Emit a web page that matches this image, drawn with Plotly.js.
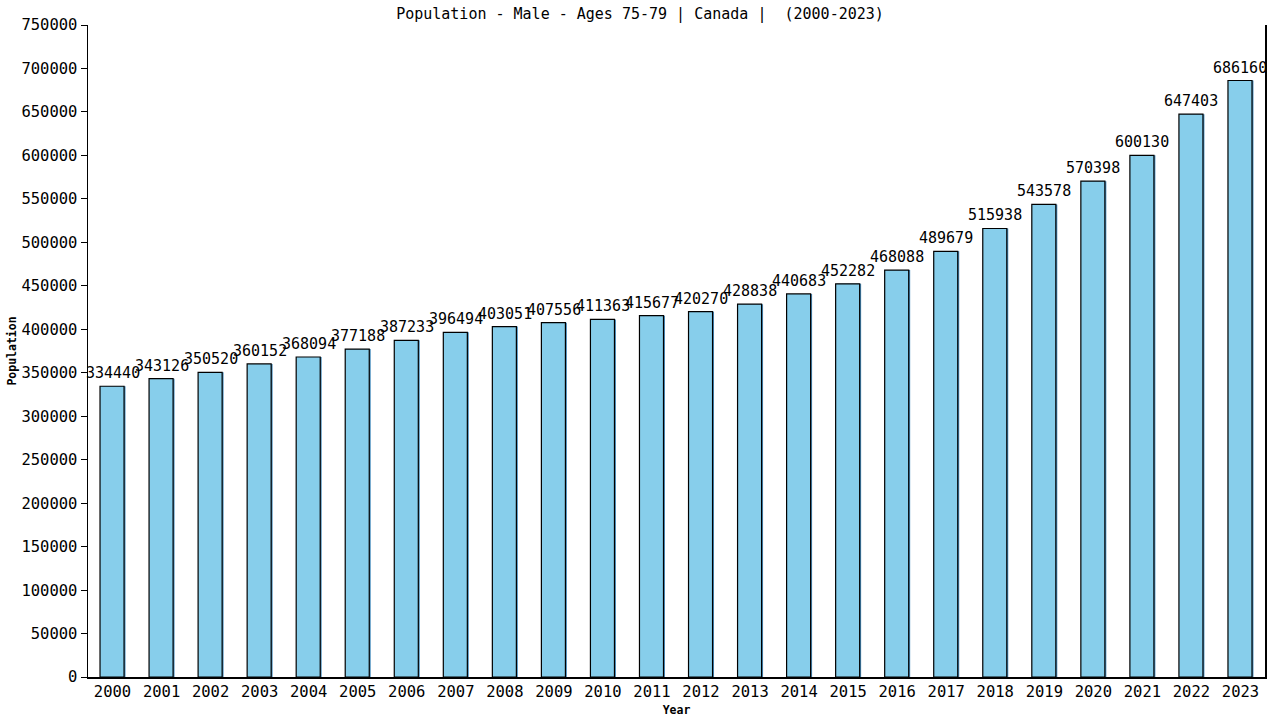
<!DOCTYPE html>
<html>
<head>
<meta charset="utf-8">
<script src="https://cdn.plot.ly/plotly-3.0.1.min.js"></script>
<style>
  html, body { margin: 0; padding: 0; background: #ffffff; }
  #chart { width: 1280px; height: 720px; }
</style>
</head>
<body>
<div id="chart"></div>
<script>
var years = ['2000', '2001', '2002', '2003', '2004', '2005', '2006', '2007',
  '2008', '2009', '2010', '2011', '2012', '2013', '2014', '2015',
  '2016', '2017', '2018', '2019', '2020', '2021', '2022', '2023'];
var population = [334440, 343126, 350520, 360152, 368094, 377188, 387233, 396494,
  403051, 407556, 411363, 415677, 420270, 428838, 440683, 452282,
  468088, 489679, 515938, 543578, 570398, 600130, 647403, 686160];
var yTicks = [0, 50000, 100000, 150000, 200000, 250000, 300000, 350000,
  400000, 450000, 500000, 550000, 600000, 650000, 700000, 750000];

var monoFont = 'DejaVu Sans Mono, Liberation Mono, monospace';

// thin steel-blue edge behind each bar, like the original's shadow
var shadow = {
  type: 'bar',
  x: years,
  y: population,
  width: 0.5,
  offset: -0.235,
  marker: { color: '#4a8fbf', line: { width: 0 } },
  hoverinfo: 'skip',
  showlegend: false
};

var bars = {
  type: 'bar',
  x: years,
  y: population,
  width: 0.49,
  offset: -0.255,
  marker: {
    color: '#87ceeb',
    line: { color: '#000000', width: 1.2 }
  },
  showlegend: false
};

// value labels above bars (category index used as x position)
var labels = population.map(function (val, i) {
  return {
    xref: 'x',
    yref: 'y',
    x: i,
    y: val,
    text: String(val),
    showarrow: false,
    xanchor: 'center',
    yanchor: 'bottom',
    yshift: 2,
    font: { family: monoFont, size: 15, color: '#000000' }
  };
});

var layout = {
  width: 1280,
  height: 720,
  margin: { l: 88, r: 15, t: 25, b: 43, pad: 0 },
  paper_bgcolor: '#ffffff',
  plot_bgcolor: '#ffffff',
  barmode: 'overlay',
  font: { family: monoFont, size: 15, color: '#000000' },
  title: {
    text: 'Population - Male - Ages 75-79 | Canada |  (2000-2023)',
    x: 0.5,
    xref: 'container',
    xanchor: 'center',
    y: 0.981,
    yref: 'container',
    yanchor: 'middle',
    font: { family: monoFont, size: 15, color: '#000000' }
  },
  annotations: labels,
  xaxis: {
    type: 'category',
    range: [-0.5, 23.5],
    showgrid: false,
    showline: true,
    linecolor: '#000000',
    linewidth: 1.5,
    ticks: '',
    tickfont: { family: monoFont, size: 15.5 },
    title: {
      text: '<b>Year</b>',
      standoff: 6,
      font: { family: monoFont, size: 11.5 }
    }
  },
  yaxis: {
    range: [0, 750000],
    tickvals: yTicks,
    ticktext: yTicks.map(String),
    showgrid: false,
    zeroline: false,
    showline: true,
    mirror: true,
    linecolor: '#000000',
    linewidth: 1.5,
    ticks: 'outside',
    ticklen: 6,
    tickwidth: 1,
    tickcolor: '#000000',
    tickfont: { family: monoFont, size: 15.5 },
    title: {
      text: '<b>Population</b>',
      standoff: 2,
      font: { family: monoFont, size: 11.5 }
    }
  }
};

var config = { displayModeBar: false, staticPlot: true };

Plotly.newPlot('chart', [shadow, bars], layout, config);
</script>
</body>
</html>
